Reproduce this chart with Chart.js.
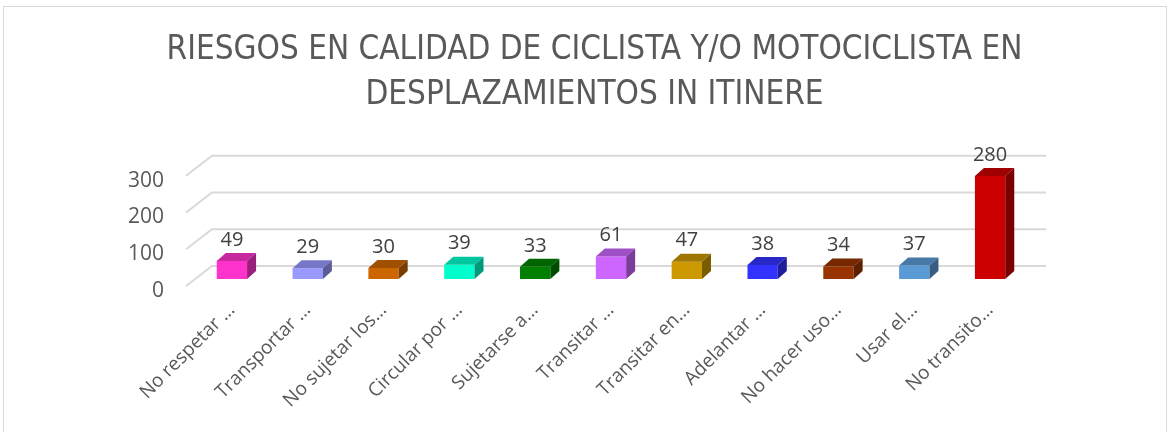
<!DOCTYPE html>
<html>
<head>
<meta charset="utf-8">
<script src="https://cdn.jsdelivr.net/npm/chart.js@4.4.1/dist/chart.umd.min.js"></script>
<style>
  html, body { margin: 0; padding: 0; background: #fff; }
  canvas { display: block; }
</style>
</head>
<body>
<canvas id="chart" width="1171" height="432"></canvas>
<script>
var categorias = ['No respetar …', 'Transportar …', 'No sujetar los…', 'Circular por …', 'Sujetarse a…',
  'Transitar …', 'Transitar en…', 'Adelantar …', 'No hacer uso…', 'Usar el…', 'No transito…'];
var valores = [49, 29, 30, 39, 33, 61, 47, 38, 34, 37, 280];
var colores = ['#FF33CC', '#9999FF', '#CC6600', '#00FFCC', '#008000', '#CC66FF',
  '#CC9900', '#3333FF', '#993300', '#5B9BD5', '#CC0000'];
var ticksY = [0, 100, 200, 300];

// profundidad del efecto 3D
var DX = 9, DY = 8;

function shade(hex, f) {
  var n = parseInt(hex.slice(1), 16);
  var r = Math.round(((n >> 16) & 255) * f);
  var g = Math.round(((n >> 8) & 255) * f);
  var b = Math.round((n & 255) * f);
  return 'rgb(' + r + ',' + g + ',' + b + ')';
}

var pseudo3d = {
  id: 'pseudo3d',
  beforeDraw: function(chart) {
    var c = chart.ctx;
    c.save();
    c.strokeStyle = '#d9d9d9';
    c.lineWidth = 1;
    c.strokeRect(3.5, 6.5, 1163, 440);
    c.restore();
  },
  beforeDatasetsDraw: function(chart) {
    var c = chart.ctx, a = chart.chartArea, y = chart.scales.y;
    c.save();
    c.strokeStyle = '#d9d9d9';
    c.lineWidth = 2;
    y.ticks.forEach(function(t) {
      var py = y.getPixelForValue(t.value);
      c.beginPath();
      c.moveTo(a.left - 8, py + 7);
      c.lineTo(a.left + 18, py - 13);
      c.lineTo(a.right + 18, py - 13);
      c.stroke();
    });
    c.restore();
  },
  afterDatasetsDraw: function(chart) {
    var c = chart.ctx;
    var meta = chart.getDatasetMeta(0);
    c.save();
    meta.data.forEach(function(bar, i) {
      var col = colores[i];
      var l = bar.x - bar.width / 2, r = bar.x + bar.width / 2, t = bar.y, b = bar.base;
      c.fillStyle = shade(col, 0.78);
      c.beginPath();
      c.moveTo(l, t); c.lineTo(r, t); c.lineTo(r + DX, t - DY); c.lineTo(l + DX, t - DY);
      c.closePath(); c.fill();
      c.fillStyle = shade(col, 0.6);
      c.beginPath();
      c.moveTo(r, t); c.lineTo(r + DX, t - DY); c.lineTo(r + DX, b - DY); c.lineTo(r, b);
      c.closePath(); c.fill();
      c.fillStyle = '#404040';
      c.font = '20px "Open Sans", sans-serif';
      c.textAlign = 'center';
      c.textBaseline = 'bottom';
      c.fillText(String(valores[i]), bar.x, t - DY - 3);
    });
    c.restore();
  }
};

new Chart(document.getElementById('chart').getContext('2d'), {
  type: 'bar',
  data: {
    labels: categorias,
    datasets: [{
      data: valores,
      backgroundColor: colores,
      borderWidth: 0,
      categoryPercentage: 1,
      barPercentage: 0.4
    }]
  },
  options: {
    responsive: false,
    animation: false,
    layout: { padding: { left: 18, right: 0, top: 0, bottom: 0 } },
    plugins: {
      legend: { display: false },
      tooltip: { enabled: false },
      title: {
        display: true,
        text: ['RIESGOS EN CALIDAD DE CICLISTA Y/O MOTOCICLISTA EN', 'DESPLAZAMIENTOS IN ITINERE'],
        color: '#595959',
        font: { family: '"Liberation Sans Narrow", "DejaVu Sans Condensed", sans-serif', size: 33, weight: 'normal', lineHeight: 1.39 },
        padding: { top: 27, bottom: 50 }
      }
    },
    scales: {
      y: {
        min: 0,
        max: 300,
        afterBuildTicks: function(s) { s.ticks = ticksY.map(function(v) { return { value: v }; }); },
        afterFit: function(s) { s.width = 176; },
        grid: { display: false, drawTicks: false },
        border: { display: false },
        ticks: { color: '#595959', font: { family: '"Open Sans", sans-serif', size: 21 }, padding: 30, labelOffset: 12 }
      },
      y2: {
        position: 'right',
        afterFit: function(s) { s.width = 143; },
        grid: { display: false, drawTicks: false },
        border: { display: false },
        ticks: { display: false }
      },
      x: {
        afterFit: function(s) { s.height = 153; },
        grid: { display: false, drawTicks: false },
        border: { display: false },
        ticks: {
          color: '#595959',
          font: { family: '"Open Sans", sans-serif', size: 19 },
          minRotation: 45, maxRotation: 45, autoSkip: false, padding: 20
        }
      }
    }
  },
  plugins: [pseudo3d]
});
</script>
</body>
</html>
